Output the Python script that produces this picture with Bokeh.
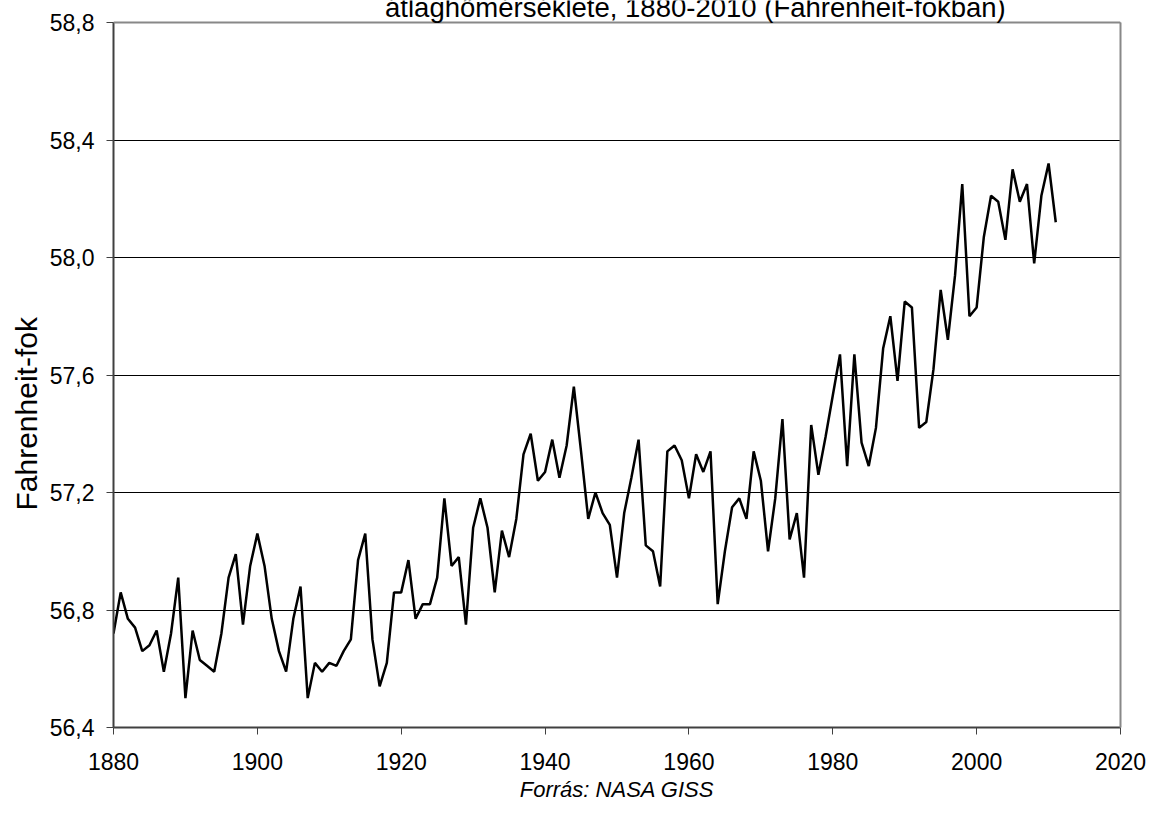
from bokeh.plotting import figure
from bokeh.models import (Range1d, FixedTicker, CustomJSTickFormatter, Label, Title,
                          LinearAxis, Span)
from bokeh.embed import file_html
from bokeh.resources import INLINE

# ---- data ----
years = list(range(1880, 2012))
temps_f = [
    56.72, 56.86, 56.77, 56.74, 56.66, 56.68, 56.73, 56.59, 56.72, 56.91,  # 1880s
    56.50, 56.73, 56.63, 56.61, 56.59, 56.72, 56.91, 56.99, 56.75, 56.95,  # 1890s
    57.06, 56.95, 56.77, 56.66, 56.59, 56.77, 56.88, 56.50, 56.62, 56.59,  # 1900s
    56.62, 56.61, 56.66, 56.70, 56.97, 57.06, 56.70, 56.54, 56.62, 56.86,  # 1910s
    56.86, 56.97, 56.77, 56.82, 56.82, 56.91, 57.18, 56.95, 56.98, 56.75,  # 1920s
    57.08, 57.18, 57.08, 56.86, 57.07, 56.98, 57.11, 57.33, 57.40, 57.24,  # 1930s
    57.27, 57.38, 57.25, 57.36, 57.56, 57.34, 57.11, 57.20, 57.13, 57.09,  # 1940s
    56.91, 57.13, 57.25, 57.38, 57.02, 57.00, 56.88, 57.34, 57.36, 57.31,  # 1950s
    57.18, 57.33, 57.27, 57.34, 56.82, 57.00, 57.15, 57.18, 57.11, 57.34,  # 1960s
    57.24, 57.00, 57.18, 57.45, 57.04, 57.13, 56.91, 57.43, 57.26, 57.39,  # 1970s
    57.53, 57.67, 57.29, 57.67, 57.37, 57.29, 57.42, 57.69, 57.80, 57.58,  # 1980s
    57.85, 57.83, 57.42, 57.44, 57.62, 57.89, 57.72, 57.94, 58.25, 57.80,  # 1990s
    57.83, 58.07, 58.21, 58.19, 58.06, 58.30, 58.19, 58.25, 57.98, 58.21,  # 2000s
    58.32, 58.12,                                                          # 2010s
]
x_ticks = [1880, 1900, 1920, 1940, 1960, 1980, 2000, 2020]
y_ticks = [56.4, 56.8, 57.2, 57.6, 58.0, 58.4, 58.8]
title_text = "átlaghőmérséklete, 1880-2010 (Fahrenheit-fokban)"
y_label_text = "Fahrenheit-fok"
source_text = "Forrás: NASA GISS"

FONT = "Liberation Sans"

# layout (pixels)
W, H = 1153, 828
LEFT, RIGHT, BOTTOM = 113, 33, 101
GAP_TOP = 22                      # space above the 58,8 line, used by the cut title
frame_h = H - BOTTOM
y_lo, y_hi = y_ticks[0], y_ticks[-1]
px = (y_hi - y_lo) / (frame_h - GAP_TOP)   # data units per pixel
y_top = y_hi + GAP_TOP * px

p = figure(
    width=W, height=H,
    x_range=Range1d(x_ticks[0], x_ticks[-1]), y_range=Range1d(y_lo, y_top),
    output_backend="svg", toolbar_location=None,
    min_border_left=LEFT, min_border_right=RIGHT, min_border_top=0, min_border_bottom=BOTTOM,
)
p.background_fill_color = "white"
p.border_fill_color = "white"
p.outline_line_color = None

# grid
p.xgrid.grid_line_color = None
p.ygrid.grid_line_color = "black"
p.ygrid.grid_line_width = 1

p.line(years, temps_f, line_color="black", line_width=2.5)

# axes
for ax in (p.xaxis[0], p.yaxis[0]):
    ax.axis_line_color = "#404040"
    ax.axis_line_width = 2
    ax.major_tick_line_color = "#404040"
    ax.major_tick_line_width = 1
    ax.major_tick_out = 7
    ax.major_tick_in = 0
    ax.minor_tick_out = 0
    ax.minor_tick_in = 0
    ax.major_label_text_font = FONT
    ax.major_label_text_font_size = "23px"
    ax.major_label_text_color = "black"

p.xaxis.ticker = FixedTicker(ticks=x_ticks)
p.yaxis.ticker = FixedTicker(ticks=y_ticks)
p.yaxis.bounds = (y_lo, y_hi)
p.yaxis.formatter = CustomJSTickFormatter(code="return tick.toFixed(1).replace('.', ',');")
p.xaxis.formatter = CustomJSTickFormatter(code="return tick.toFixed(0);")
p.xaxis.major_label_standoff = 18
p.yaxis.major_label_standoff = 12

p.xaxis.axis_label = source_text
p.xaxis.axis_label_text_font = FONT
p.xaxis.axis_label_text_font_style = "italic"
p.xaxis.axis_label_text_font_size = "22px"
p.xaxis.axis_label_text_color = "black"
p.xaxis.axis_label_standoff = 4

# plot-area border: grey right edge and grey top edge (at 58,8)
right_edge = LinearAxis(ticker=FixedTicker(ticks=[]), bounds=(y_lo, y_hi),
                        axis_line_color="#888888", axis_line_width=2,
                        major_tick_out=0, major_tick_in=0,
                        minor_tick_out=0, minor_tick_in=0,
                        major_label_text_font_size="0px")
p.add_layout(right_edge, "right")
p.add_layout(Span(location=y_hi, dimension="width", line_color="#888888", line_width=2))

# y-axis title, placed beside 57,2 as in the reference
ytitle = Title(text=y_label_text, align="left", offset=217, standoff=6,
               vertical_align="middle",
               text_font=FONT, text_font_size="30px", text_font_style="normal",
               text_color="black")
p.add_layout(ytitle, "left")

# chart title (its first line lies above the image in the reference)
p.add_layout(Label(x=1960.9, y=y_hi + 15 * px, text=title_text,
                   text_align="center", text_baseline="alphabetic",
                   text_font=FONT, text_font_size="27.5px", text_color="black"))

open("out.html", "w").write(file_html(p, INLINE))
